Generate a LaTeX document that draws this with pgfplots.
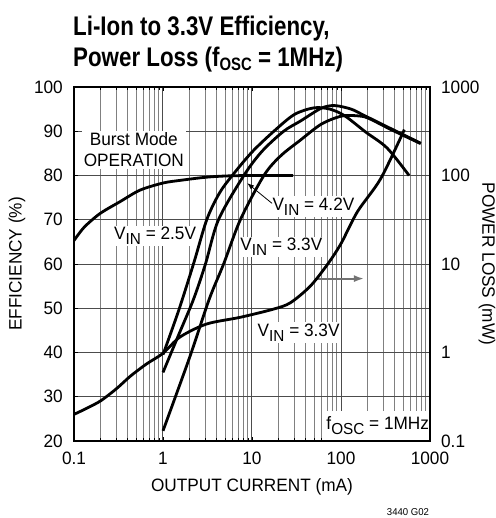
\documentclass[border=0pt]{standalone}
\usepackage{fontspec}
\setmainfont{Liberation Sans}[FakeStretch=0.96]
\newfontfamily\titlefont{Liberation Sans}[FakeStretch=0.83]
\usepackage{pgfplots}
\pgfplotsset{compat=1.18}
\usetikzlibrary{arrows.meta}

% lowered subscript in the same sans font
\newcommand\sub[1]{\raisebox{-5bp}{\fontsize{16}{16}\selectfont #1}}

\begin{document}
\fontsize{18}{21}\selectfont
\begin{tikzpicture}[font=\fontsize{18}{21}\selectfont]
\useasboundingbox (-74bp,-77bp) rectangle (422bp,441bp);

% efficiency, left axis
\begin{axis}[
    at={(0,0)}, anchor=south west,
    scale only axis, width=356bp, height=354bp,
    xmode=log, xmin=0.1, xmax=1000, ymin=20, ymax=100,
    xtick={0.1,1,10,100,1000},
    xticklabels={0.1,1,10,100,1000},
    ytick={20,30,40,50,60,70,80,90,100},
    yticklabels={20,30,40,50,60,70,80,90,100},
    grid=both,
    major grid style={black!70, line width=1bp},
    minor grid style={black!50, line width=1bp},
    tick align=inside,
    major tick length=4bp, minor tick length=3bp,
    tick style={black, line width=0.8bp},
    ytick pos=left,
    axis line style={line width=1.4bp},
    xticklabel style={yshift=-5bp},
    yticklabel style={xshift=-5bp},
    xlabel={OUTPUT CURRENT (mA)},
    ylabel={EFFICIENCY (\%)},
    xlabel style={at={(axis description cs:0.5,-0.13)}, anchor=center},
    ylabel style={at={(axis description cs:-0.16,0.5)}, anchor=center},
  ]
  \node[fill=white, align=center, inner sep=2bp] at (axis cs:0.47,85.8) {Burst Mode\\OPERATION};
  \node[fill=white, inner sep=1.5bp] at (axis cs:0.816,66.3) {V\sub{IN} = 2.5V};
  \node[fill=white, inner sep=1.5bp] at (axis cs:49,73) {V\sub{IN} = 4.2V};
  \node[fill=white, inner sep=1.5bp] at (axis cs:21.4,63.8) {V\sub{IN} = 3.3V};
  \node[fill=white, inner sep=1.5bp] at (axis cs:33.4,44.5) {V\sub{IN} = 3.3V};
  \node[fill=white, anchor=south east, minimum width=102bp, minimum height=29bp, inner sep=0]
    at ([xshift=-0.8bp,yshift=0.8bp]rel axis cs:1,0) {f\sub{OSC} = 1MHz};
  \draw[-{Latex[length=7bp,width=5bp]}, line width=0.8bp] (axis cs:16.8,73.7) -- (axis cs:8.8,78.3);
  \draw[-{Latex[length=10bp,width=7bp]}, line width=1.8bp, black!55] (axis cs:54,56.7) -- (axis cs:181,56.7);

  % Burst Mode operation
  \addplot[black, line width=2.8bp, smooth] coordinates {
    (0.1,65.3) (0.13,68.3) (0.196,71.4) (0.33,74.1) (0.553,76.7) (1,78.3)
    (1.56,78.9) (3,79.6) (5.2,79.9) (10,80) (29,80)};
  % VIN = 2.5V
  \addplot[black, line width=2.8bp, smooth] coordinates {
    (1,39.5) (1.5,49.5) (2.2,60) (3.1,70) (4.3,76) (6,80) (10,85.3) (17.6,90)
    (30,93.8) (50,95.3) (75,95) (110,93.5) (190,89.8) (330,86.2) (582,80)};
  % VIN = 4.2V
  \addplot[black, line width=2.8bp, smooth] coordinates {
    (1,35.5) (1.5,44) (2.2,52) (3,60) (4.2,70) (8.1,80) (13,85.5) (22.7,90)
    (35,92.3) (60,95.2) (85,95.8) (130,95) (181,93.6) (363,90.6) (787,87.3)};
  % VIN = 3.3V
  \addplot[black, line width=2.8bp, smooth] coordinates {
    (1,22.3) (2,39) (3.3,52) (4.8,60) (7.4,70) (13.6,80) (20.9,84.4) (35,88)
    (60,91.6) (100,93.4) (150,93.5) (200,93) (363,90.4) (787,87.2)};
\end{axis}

% power loss, right axis
\begin{axis}[
    at={(0,0)}, anchor=south west,
    scale only axis, width=356bp, height=354bp,
    xmode=log, ymode=log, xmin=0.1, xmax=1000, ymin=0.1, ymax=1000,
    hide x axis,
    axis y line*=right,
    axis line style={line width=1.4bp},
    ytick={0.1,1,10,100,1000},
    yticklabels={0.1,1,10,100,1000},
    major tick length=0pt, minor tick length=0pt,
    yticklabel style={xshift=5bp},
    ylabel={POWER LOSS (mW)},
    ylabel style={at={(axis description cs:1.16,0.5)}, anchor=center, rotate=180},
  ]
  \addplot[black, line width=2.8bp, smooth] coordinates {
    (0.1,0.2) (0.14,0.235) (0.2,0.285) (0.3,0.39) (0.43,0.54) (0.65,0.74) (1,0.98)
    (1.56,1.5) (3.1,2.1) (7.4,2.5) (17.6,3.1) (27,3.65) (45,5.6) (70,9.8)
    (100,17) (153,39) (279,92) (515,330)};
\end{axis}

\node[anchor=base west, inner sep=0, font=\titlefont\bfseries\fontsize{27}{30}\selectfont]
  at (-1bp,405bp) {Li-Ion to 3.3V Efficiency,};
\node[anchor=base west, inner sep=0, font=\titlefont\bfseries\fontsize{27}{30}\selectfont]
  at (-1bp,374bp) {Power Loss (f\raisebox{-3.5bp}{\fontsize{18}{18}\selectfont OSC} = 1MHz)};
\node[font=\fontsize{10}{12}\selectfont] at (334bp,-71bp) {3440 G02};
\end{tikzpicture}
\end{document}
